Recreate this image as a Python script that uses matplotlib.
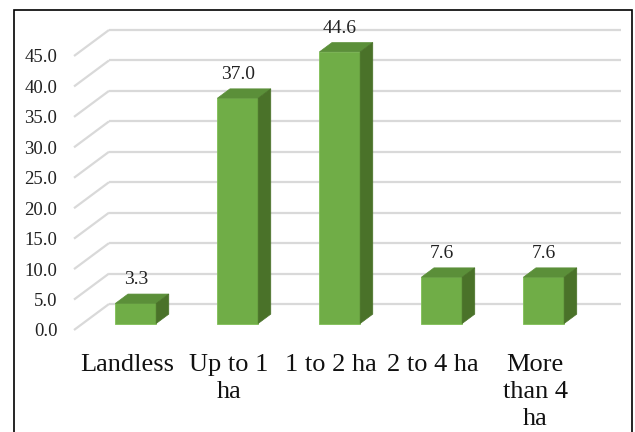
import matplotlib
matplotlib.use("Agg")
import matplotlib.pyplot as plt
from matplotlib.patches import Polygon, Rectangle

categories = ["Landless", "Up to 1\nha", "1 to 2 ha", "2 to 4 ha", "More\nthan 4\nha"]
values = [3.3, 37.0, 44.6, 7.6, 7.6]
value_labels = ["3.3", "37.0", "44.6", "7.6", "7.6"]
yticks = [0, 5, 10, 15, 20, 25, 30, 35, 40, 45]
ytick_labels = ["0.0", "5.0", "10.0", "15.0", "20.0", "25.0", "30.0", "35.0", "40.0", "45.0"]

FONT = "Liberation Serif"
FRONT = "#70ad47"
TOP = "#5b8f39"
SIDE = "#4a7229"
GRID = "#d9d9d9"

W, H = 635, 432
fig = plt.figure(figsize=(W / 100, H / 100), dpi=100)

# axes = front plane of the 3-D floor
x0, x1 = -0.52, 4.5
ax = fig.add_axes([74 / W, (H - 330) / H, 512 / W, 274 / H])
ax.set_xlim(x0, x1)
ax.set_ylim(0, 45)
for s in ax.spines.values():
    s.set_visible(False)

# full depth of the floor expressed in data units
DX, DY = 0.343, 4.27
bar_d0, bar_d1 = 0.25, 0.61
bar_w = 0.40

# back wall and left wall gridlines
for t in yticks:
    ax.plot([x0 + DX, x1 + DX], [t + DY, t + DY], color=GRID, lw=1.6,
            clip_on=False, zorder=1, solid_capstyle="butt")
    ax.plot([x0, x0 + DX], [t, t + DY], color=GRID, lw=1.6,
            clip_on=False, zorder=1, solid_capstyle="butt")

# 3-D bars
ox0, oy0 = DX * bar_d0, DY * bar_d0
bdx, bdy = DX * (bar_d1 - bar_d0), DY * (bar_d1 - bar_d0)
xs = list(range(len(values)))
ax.bar([x + ox0 for x in xs], values, width=bar_w, bottom=oy0, color=FRONT,
       edgecolor="#7fbf55", linewidth=0.6, zorder=3, clip_on=False)
for x, v, lab in zip(xs, values, value_labels):
    l = x + ox0 - bar_w / 2
    r = x + ox0 + bar_w / 2
    b = oy0
    t = oy0 + v
    top = Polygon([(l, t), (r, t), (r + bdx, t + bdy), (l + bdx, t + bdy)],
                  closed=True, facecolor=TOP, edgecolor=TOP, lw=0.5,
                  zorder=3, clip_on=False)
    side = Polygon([(r, b), (r + bdx, b + bdy), (r + bdx, t + bdy), (r, t)],
                   closed=True, facecolor=SIDE, edgecolor=SIDE, lw=0.5,
                   zorder=3, clip_on=False)
    ax.add_patch(top)
    ax.add_patch(side)
    ax.annotate(lab, (x + ox0, t + bdy), xytext=(0, 4), textcoords="offset points",
                ha="center", va="bottom", fontsize=14, family=FONT,
                color="#222222", annotation_clip=False)

ax.set_yticks(yticks)
ax.set_yticklabels(ytick_labels, family=FONT, fontsize=13.5, color="#222222")
ax.tick_params(axis="y", length=0, pad=12)
ax.set_xticks(xs)
ax.set_xticklabels(categories, family=FONT, fontsize=19, color="#111111",
                   linespacing=1.3, multialignment="center")
ax.tick_params(axis="x", length=0, pad=17)

# outer frame
fig.add_artist(Rectangle((14 / W, -0.05), (632 - 14) / W, 1.05 - 10 / H,
                         transform=fig.transFigure, fill=False,
                         edgecolor="black", lw=1.2))

fig.savefig("out.png", dpi=100)
